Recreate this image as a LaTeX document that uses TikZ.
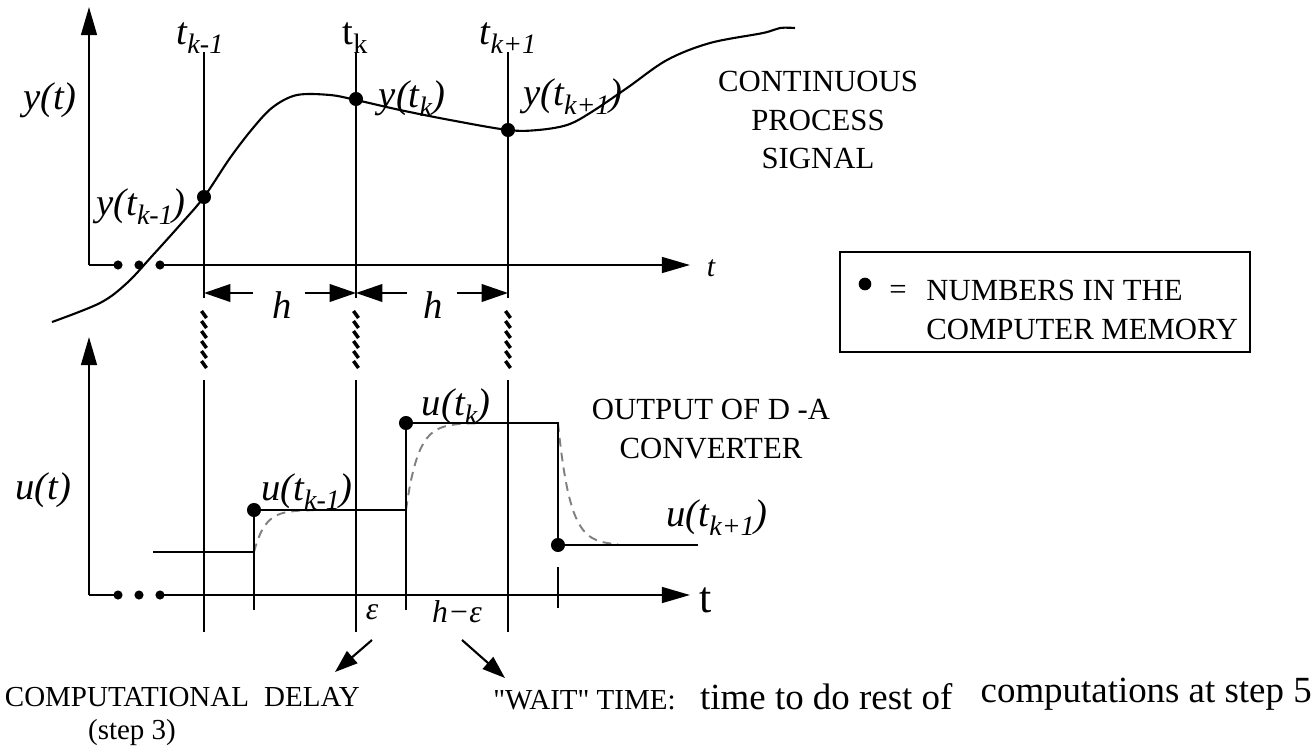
\documentclass[tikz,border=0pt]{standalone}
\usepackage{fontspec}
\setmainfont{Liberation Serif}[Ligatures=TeXOff]
\usetikzlibrary{arrows.meta}
\newcommand{\lowsub}[1]{\raisebox{-.5ex}{\fontsize{16}{18}\selectfont #1}}
\tikzset{
  axis/.style={line width=1.2pt,-{Triangle[length=16pt,width=9pt]}},
  sample/.style={line width=1.2pt},
  dimarrow/.style={line width=1.2pt,-{Triangle[length=15pt,width=10pt]}},
  notearrow/.style={line width=1.2pt,-{Triangle[length=13pt,width=9pt]}},
  rise/.style={gray,line width=1.1pt,dash pattern=on 5pt off 3.5pt},
  lbl/.style={font=\fontsize{22}{24}\selectfont\itshape,inner sep=0pt},
  caps/.style={font=\fontsize{17.5}{22}\selectfont,align=center,inner sep=0pt},
  bot/.style={font=\fontsize{16.5}{20}\selectfont,inner sep=0pt},
}
\begin{document}
\begin{tikzpicture}[x=.02cm,y=-.02cm]
\useasboundingbox (0,0) rectangle (1314,747);
\def\xa{204}
\def\xb{356}
\def\xc{508}
\def\ty{265}
\def\by{595}
% axes
\coordinate (yo) at (89,\ty);
\coordinate (yend) at (89,7);
\coordinate (tend) at (690,\ty);
\coordinate (uo) at (89,\by);
\coordinate (uend) at (89,337);
\coordinate (send) at (690,\by);
\draw[axis] (yo) -- (yend);
\draw[axis] (uo) -- (uend);
\draw[sample] (yo) -- (118,\ty);
\draw[sample] (uo) -- (118,\by);
\draw[axis] (160,\ty) -- (tend);
\draw[axis] (160,\by) -- (send);
\foreach \y in {\ty,\by}
  \foreach \x in {118,139,160} \fill (\x,\y) circle (2.6pt);
% sampling instants, broken between the two plots
\foreach \x in {\xa,\xb,\xc} {
  \draw[sample] (\x,52) -- (\x,298);
  \draw[sample] (\x,380) -- (\x,632);
  \foreach \yy in {311,321,...,361} \draw[line width=2pt] (\x-2.5,\yy) -- (\x+2.5,\yy+7);
}
% continuous signal
\draw[sample] plot[smooth,tension=.55] coordinates {(52,322) (100,303) (127,283) (153,255)
  (180,225) (204,197) (230,158) (253,128) (273,107) (297,95) (330,95) (356,100)
  (400,110) (450,120) (508,130) (538,130) (567,125) (590,113) (627,88) (667,60)
  (710,43) (763,33) (780,28) (795,28)};
\foreach \p in {(\xa,197),(\xb,99),(\xc,130)} \fill \p circle (4pt);
% h spacing
\coordinate (ha) at (\xa,293);
\coordinate (hb) at (\xb,293);
\coordinate (hc) at (\xc,293);
\draw[dimarrow] (253,293) -- (ha);
\draw[dimarrow] (305,293) -- (hb);
\draw[dimarrow] (407,293) -- (hb);
\draw[dimarrow] (457,293) -- (hc);
\node[lbl] (lh1) at (282,305) {h};
\node[lbl] (lh2) at (433,305) {h};
% top labels
\node[lbl] (lyt) at (50,100) {y(t)};
\node[lbl] (ltkm) at (200,38) {t\lowsub{k-1}};
\node[font=\fontsize{22}{24}\selectfont,inner sep=0pt] (ltk) at (355,38) {t\lowsub{k}};
\node[lbl] (ltkp) at (508,38) {t\lowsub{k+1}};
\node[lbl] (lytkm) at (141,207) {y(t\lowsub{k-1})};
\node[lbl] (lytk) at (412,99) {y(t\lowsub{k})};
\node[lbl] (lytkp) at (573,97) {y(t\lowsub{k+1})};
\node[font=\fontsize{17}{20}\selectfont\itshape,inner sep=0pt] (lt1) at (711,268) {t};
\node[caps] (lsig) at (818,120) {CONTINUOUS\\PROCESS\\SIGNAL};
% legend
\draw[line width=1.2pt] (840,252) rectangle (1250,352);
\fill (865,284) circle (3.6pt);
\node[caps] (leq) at (898,292) {=};
\node[caps,anchor=west,align=left] (lmem) at (926,310) {NUMBERS IN THE\\COMPUTER MEMORY};
% D-A output
\draw[rise] plot[domain=0:60,samples=40] ({254+\x},{510+42*exp(-\x/11)});
\draw[rise] plot[domain=0:70,samples=40] ({406+\x},{423+87*exp(-\x/12)});
\draw[rise] plot[domain=0:60,samples=40] ({558+\x},{545-122*exp(-\x/12)});
\draw[sample] (153,552) -- (254,552) -- (254,510) -- (406,510) -- (406,423)
  -- (558,423) -- (558,545) -- (698,545);
\draw[sample] (254,552) -- (254,610);
\draw[sample] (406,510) -- (406,610);
\draw[sample] (558,567) -- (558,608);
\foreach \p in {(254,510),(406,423),(558,545)} \fill \p circle (4pt);
\node[lbl] (lut) at (43,490) {u(t)};
\node[lbl] (lutkm) at (307,492) {u(t\lowsub{k-1})};
\node[lbl] (lutk) at (456,407) {u(t\lowsub{k})};
\node[lbl] (lutkp) at (717,518) {u(t\lowsub{k+1})};
\node[caps] (ldac) at (711,429) {OUTPUT OF D -A\\CONVERTER};
\node[font=\fontsize{25}{28}\selectfont,inner sep=0pt] (lt2) at (706,600) {t};
\node[font=\fontsize{18}{20}\selectfont\itshape,inner sep=0pt] (leps) at (372,612) {ε};
\node[font=\fontsize{18}{20}\selectfont\itshape,inner sep=0pt] (lheps) at (457,612) {h−ε};
% notes
\coordinate (d1) at (372,640);
\coordinate (d2) at (335,672);
\coordinate (w1) at (462,640);
\coordinate (w2) at (505,678);
\draw[notearrow] (d1) -- (d2);
\draw[notearrow] (w1) -- (w2);
\node[bot] (lcomp) at (127,697) {COMPUTATIONAL};
\node[bot] (ldelay) at (312,697) {DELAY};
\node[bot] (lstep) at (132,733) {(step 3)};
\node[bot,anchor=west] (lwait) at (493,697) {"WAIT" TIME:\hspace{14pt}{\fontsize{21}{24}\selectfont time to do rest of}};
\node[bot,anchor=east,font=\fontsize{21}{24}\selectfont] (lrest) at (1312,694) {computations at step 5};
\end{tikzpicture}
\end{document}
